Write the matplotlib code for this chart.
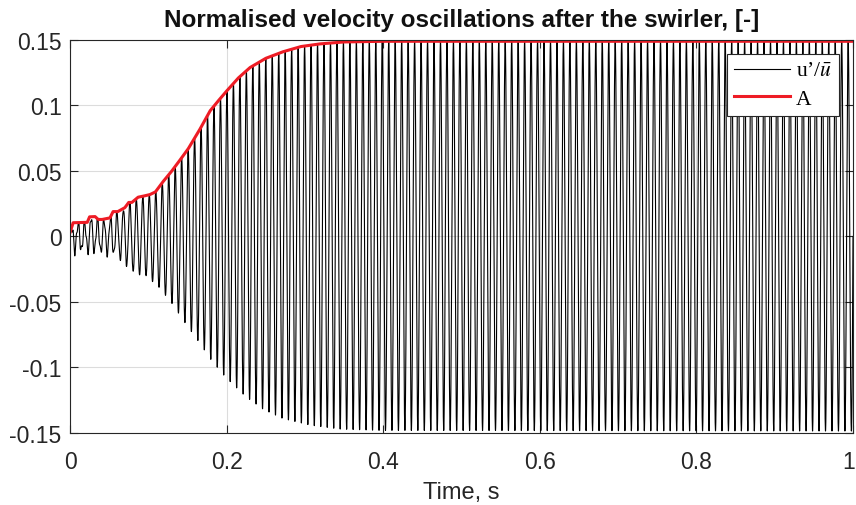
import numpy as np
import matplotlib.pyplot as plt
import matplotlib.transforms as mtransforms
from matplotlib.ticker import FuncFormatter

plt.rcParams['font.family'] = ['Liberation Sans', 'DejaVu Sans']
plt.rcParams['mathtext.fontset'] = 'stix'
plt.rcParams['axes.unicode_minus'] = False

env_t = [0.0, 0.004, 0.022, 0.025, 0.032, 0.036, 0.041, 0.051, 0.055, 0.061,
         0.07, 0.075, 0.079, 0.087, 0.095, 0.102, 0.109, 0.119, 0.13, 0.14,
         0.151, 0.166, 0.179, 0.19, 0.2, 0.215, 0.23, 0.25, 0.272, 0.295,
         0.319, 0.35, 0.4, 1.0]
env_a = [0.003, 0.0105, 0.0108, 0.015, 0.0152, 0.013, 0.013, 0.0142, 0.019, 0.019,
         0.022, 0.026, 0.026, 0.030, 0.031, 0.032, 0.034, 0.042, 0.050, 0.058,
         0.067, 0.082, 0.096, 0.104, 0.111, 0.121, 0.129, 0.136, 0.141, 0.145,
         0.147, 0.1485, 0.149, 0.149]

# depth of the troughs of u'/u
neg_t = [0.0, 0.03, 0.06, 0.079, 0.097, 0.114, 0.13, 0.147, 0.164, 0.18,
         0.198, 0.224, 0.247, 0.272, 0.307, 0.345, 0.396, 1.0]
neg_a = [0.011, 0.011, 0.014, 0.027, 0.030, 0.039, 0.051, 0.066, 0.080, 0.094,
         0.107, 0.122, 0.132, 0.139, 0.144, 0.147, 0.148, 0.1485]

freq_hz = 121.0  # carrier frequency counted from the cycles

# early ripple at a higher frequency, fading out by ~0.1 s
ripple_t = [0.0, 0.05, 0.1]
ripple_a = [0.004, 0.003, 0.0]
ripple_hz = 290.0

t = np.linspace(0, 1, 40001)
s = np.sin(2 * np.pi * freq_hz * t)
pos = np.interp(t, env_t, env_a)
neg = np.interp(t, neg_t, neg_a)
u = np.where(s >= 0, pos * s, neg * s)
u = u + np.interp(t, ripple_t, ripple_a) * np.sin(2 * np.pi * ripple_hz * t)
u = np.minimum(u, pos)

fig = plt.figure(figsize=(8.56, 5.06), dpi=100)
ax = fig.add_axes([0.0818, 0.1423, 0.9147, 0.7767])

ax.plot(t, u, color='black', lw=0.8, label="u\u2019/$\\bar{u}$")
ax.plot(env_t, env_a, color='#ee1c25', lw=2.2, label='A')

ax.set_xlim(0, 1)
ax.set_ylim(-0.15, 0.15)
ax.set_xticks([0, 0.2, 0.4, 0.6, 0.8, 1])
ax.set_yticks([-0.15, -0.1, -0.05, 0, 0.05, 0.1, 0.15])
ax.xaxis.set_major_formatter(FuncFormatter(lambda v, p: '%g' % round(v, 3)))
ax.yaxis.set_major_formatter(FuncFormatter(lambda v, p: '%g' % round(v, 3)))
ax.grid(True, color='#dcdcdc', lw=0.8)
ax.set_axisbelow(True)
ax.tick_params(direction='in', length=6, top=True, right=True,
               labelsize=16.5, colors='#262626', width=0.8)
ax.tick_params(axis='y', pad=6)
ax.tick_params(axis='x', pad=12)
for sp in ax.spines.values():
    sp.set_color('#262626')
    sp.set_linewidth(0.8)

# keep the last x label "1" inside the figure
last = ax.get_xticklabels()[-1]
last.set_transform(last.get_transform() +
                   mtransforms.ScaledTranslation(-3 / 72, 0, fig.dpi_scale_trans))

ax.set_xlabel('Time, s', fontsize=17, color='#262626', labelpad=6)
ax.set_title('Normalised velocity oscillations after the swirler, [-]',
             fontsize=17.5, fontweight='bold', color='#111111', pad=10)

leg = ax.legend(loc='upper right', bbox_to_anchor=(0.982, 0.964),
                prop={'family': 'Liberation Serif', 'size': 15.5},
                fancybox=False, framealpha=1, edgecolor='#262626',
                handlelength=2.6, borderpad=0.33, labelspacing=0.35,
                handletextpad=0.25, borderaxespad=0.0)
leg.get_frame().set_linewidth(0.8)

fig.savefig('out.png', dpi=100)
